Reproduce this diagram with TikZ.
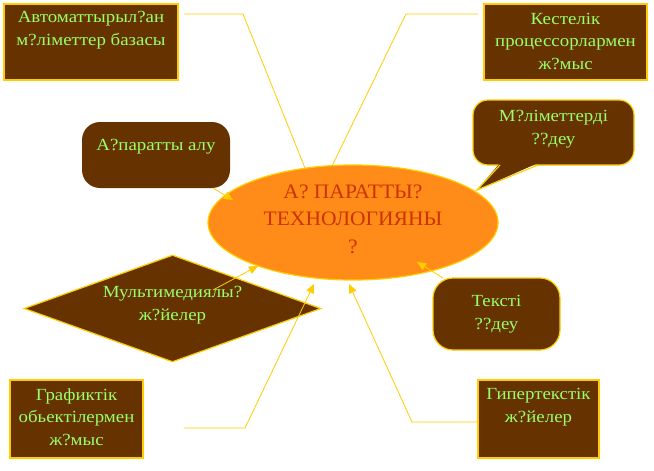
\documentclass[tikz,border=0pt]{standalone}
\usepackage{fontspec}
\setmainfont{Liberation Serif}
\newfontfamily\gfont{Liberation Serif}[FakeStretch=1.11]
\newfontfamily\efont{Liberation Serif}[FakeStretch=1.05]
\usetikzlibrary{shapes.geometric,arrows.meta}
\definecolor{brn}{RGB}{102,51,0}
\definecolor{gold}{RGB}{255,204,0}
\definecolor{lgreen}{RGB}{153,255,102}
\definecolor{orng}{RGB}{255,140,25}
\definecolor{redt}{RGB}{204,51,0}
\begin{document}
\begin{tikzpicture}[x=1pt,y=-1pt,
  shp/.style={fill=brn,inner sep=0pt},
  goldline/.style={draw=gold,line width=1.2pt},
  txt/.style={text=lgreen,align=center,inner sep=0pt,font=\gfont\fontsize{17}{22.5}\selectfont},
  conn/.style={draw=gold,line width=0.8pt},
  arr/.style={conn,-{Triangle[length=9pt,width=8pt]}}
]
\useasboundingbox (0,0) rectangle (654,471);

% coordinates for connector ends
\coordinate (p1a) at (184,14);
\coordinate (p1b) at (243,14);
\coordinate (p1c) at (305,168);
\coordinate (p2a) at (478,14);
\coordinate (p2b) at (406,14);
\coordinate (p2c) at (332,166);
\coordinate (p3a) at (213,188);
\coordinate (p3c) at (233,200);
\coordinate (p4a) at (213,290);
\coordinate (p4c) at (258,266);
\coordinate (p5a) at (184,428);
\coordinate (p5b) at (245,428);
\coordinate (p5c) at (314,284);
\coordinate (p6a) at (443,278);
\coordinate (p6c) at (417,262);
\coordinate (p7a) at (478,422);
\coordinate (p7b) at (412,422);
\coordinate (p7c) at (349,284);

% lines to ellipse top
\draw[conn] (p1a) -- (p1b) -- (p1c);
\draw[conn] (p2a) -- (p2b) -- (p2c);

% shapes
\node[shp,goldline,minimum width=174pt,minimum height=76pt] (b1) at (91,42) {};
\node[txt] (b1t) at (91,30) {Автоматтырыл?ан\\м?ліметтер базасы};

\node[shp,goldline,minimum width=163pt,minimum height=76pt] (b2) at (565.5,42) {};
\node[txt] (b2t) at (565.5,41) {Кестелік\\процессорлармен\\ж?мыс};

\node[shp,rounded corners=18pt,minimum width=148pt,minimum height=66pt] (r1) at (156,155) {};
\node[txt] (r1t) at (156,147) {А?паратты алу};

\node[shp,goldline,rounded corners=15pt,minimum width=161pt,minimum height=65pt] (c1) at (553.5,132.5) {};
\fill[brn] (500,163) -- (477,190) -- (538,163) -- cycle;
\draw[goldline] (500,165) -- (477,190) -- (538,165);
\node[txt] (c1t) at (553.5,129) {М?ліметтерді\\??деу};

\node[ellipse,fill=orng,draw=gold,line width=1.2pt,inner sep=0pt,minimum width=290pt,minimum height=115pt] (e) at (353,222.5) {};
\node[text=redt,align=center,inner sep=0pt,font=\efont\fontsize{20.5}{27.5}\selectfont] (et) at (353,219) {А? ПАРАТТЫ?\\ТЕХНОЛОГИЯНЫ\\?};

\node[diamond,shp,goldline,minimum width=297pt,minimum height=107pt] (d) at (172.5,308.5) {};
\node[txt] (dt) at (172.5,305) {Мультимедиялы?\\ж?йелер};

\node[shp,goldline,minimum width=133pt,minimum height=78pt] (b3) at (76.5,419) {};
\node[txt] (b3t) at (76.5,417) {Графиктік\\обьектілермен\\ж?мыс};

\node[shp,goldline,rounded corners=20pt,minimum width=127pt,minimum height=72pt] (r2) at (496.5,314) {};
\node[txt] (r2t) at (496.5,314) {Тексті\\??деу};

\node[shp,goldline,minimum width=121pt,minimum height=78pt] (b4) at (538.5,419) {};
\node[txt] (b4t) at (538.5,407) {Гипертекстік\\ж?йелер};

% arrows
\draw[arr] (p3a) -- (p3c);
\draw[arr] (p4a) -- (p4c);
\draw[arr] (p5a) -- (p5b) -- (p5c);
\draw[arr] (p6a) -- (p6c);
\draw[arr] (p7a) -- (p7b) -- (p7c);
\end{tikzpicture}
\end{document}
